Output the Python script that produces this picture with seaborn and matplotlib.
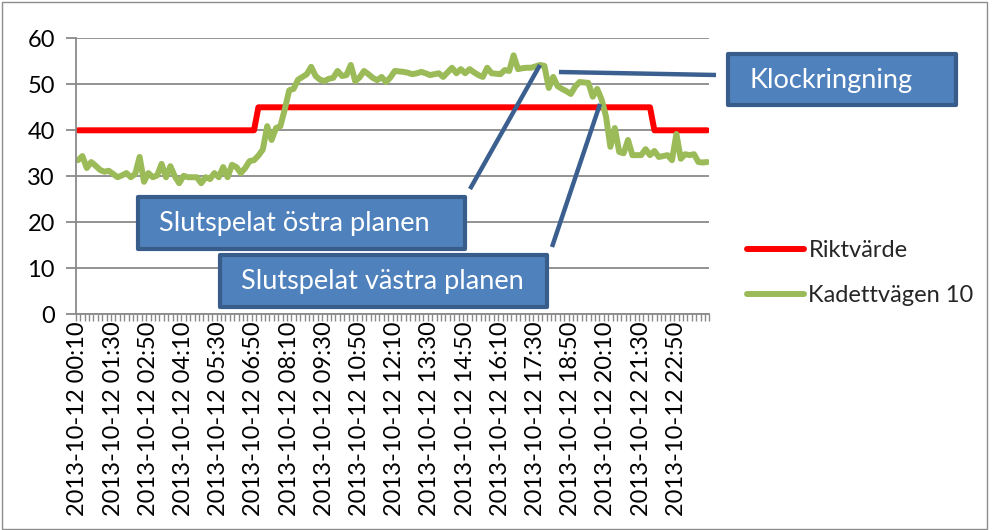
import numpy as np
import pandas as pd
import matplotlib
matplotlib.use("Agg")
import matplotlib.pyplot as plt
import seaborn as sns
from matplotlib.patches import Rectangle
from matplotlib.lines import Line2D

# ---------------- data ----------------
n_points = 144  # 10-minute readings, 2013-10-12 00:10 ... 24:00

tick_positions = [0, 8, 16, 24, 32, 40, 48, 56, 64, 72, 80, 88, 96, 104, 112, 120, 128, 136]
tick_labels = [
    "2013-10-12 00:10", "2013-10-12 01:30", "2013-10-12 02:50", "2013-10-12 04:10",
    "2013-10-12 05:30", "2013-10-12 06:50", "2013-10-12 08:10", "2013-10-12 09:30",
    "2013-10-12 10:50", "2013-10-12 12:10", "2013-10-12 13:30", "2013-10-12 14:50",
    "2013-10-12 16:10", "2013-10-12 17:30", "2013-10-12 18:50", "2013-10-12 20:10",
    "2013-10-12 21:30", "2013-10-12 22:50",
]

riktvarde = [40] * 41 + [45] * 90 + [40] * 13

kadettvagen = [
    33.5, 34.4, 31.8, 33.1, 32.3, 31.4, 31.0, 31.2, 30.5, 29.8,
    30.2, 30.7, 29.8, 30.5, 34.2, 28.8, 30.7, 29.8, 30.2, 32.7,
    29.8, 32.2, 30.0, 28.5, 30.1, 29.8, 29.8, 29.8, 28.5, 29.8,
    29.4, 30.7, 29.8, 32.0, 29.8, 32.5, 32.0, 30.7, 31.8, 33.3,
    33.5, 34.5, 35.8, 40.9, 37.9, 40.5, 40.9, 44.6, 48.7, 49.0,
    51.0, 51.6, 52.2, 53.8, 51.8, 51.0, 50.7, 51.2, 51.4, 52.9,
    51.8, 52.0, 54.2, 50.7, 51.5, 52.9, 52.2, 51.4, 50.9, 51.6,
    50.5, 51.5, 52.9, 52.8, 52.7, 52.5, 52.2, 52.4, 52.7, 52.4,
    52.0, 52.2, 52.4, 51.6, 52.6, 53.6, 52.4, 53.3, 52.4, 53.3,
    52.6, 52.0, 51.6, 53.6, 52.4, 52.3, 52.2, 53.1, 52.9, 56.3,
    53.3, 53.5, 53.6, 53.6, 53.9, 54.2, 54.0, 49.2, 51.6, 49.6,
    49.0, 48.5, 47.9, 49.5, 50.5, 50.4, 50.3, 47.3, 49.0, 46.7,
    43.0, 36.4, 40.5, 35.3, 35.0, 37.9, 34.6, 34.6, 34.6, 35.9,
    34.6, 35.5, 34.2, 34.4, 34.6, 33.5, 39.2, 33.8, 34.8, 34.6,
    34.8, 33.1, 33.0, 33.1,
]

series_names = ["Riktvärde", "Kadettvägen 10"]
series_colors = ["#FF0000", "#9BBB59"]

df = pd.DataFrame({
    "idx": list(range(n_points)),
    series_names[0]: riktvarde,
    series_names[1]: kadettvagen,
})

# ---------------- figure ----------------
sns.set_theme(style="white")
plt.rcParams["font.family"] = ["Lato", "DejaVu Sans"]

W, H = 992, 530
fig = plt.figure(figsize=(W / 100, H / 100), dpi=100)
fig.patch.set_facecolor("white")

def fx(x):
    return x / W

def fy(y):
    return 1 - y / H

left, right, top, bottom = 75.8, 709.4, 38.3, 314.3
ax = fig.add_axes([fx(left), fy(bottom), fx(right) - fx(left), fy(top) - fy(bottom)])

grid_col = "#8A8A8A"
ax.set_axisbelow(True)
ax.yaxis.grid(True, color=grid_col, lw=1.3)
ax.xaxis.grid(False)

for name, col in zip(series_names, series_colors):
    sns.lineplot(data=df, x="idx", y=name, ax=ax, color=col, lw=4.3,
                 solid_capstyle="round", solid_joinstyle="round", legend=False)

ax.set_xlim(-0.5, n_points - 0.5)
ax.set_ylim(0, 60)
ax.set_yticks(range(0, 61, 10))
ax.set_xlabel("")
ax.set_ylabel("")

ax.set_xticks(tick_positions)
ax.set_xticklabels(tick_labels, rotation=90, fontsize=17, color="black")
ax.set_xticks(np.arange(-0.5, n_points, 1.0), minor=True)
ax.tick_params(axis="x", which="major", length=0, pad=5)
ax.tick_params(axis="x", which="minor", length=5, width=1.0, color=grid_col,
               direction="out", bottom=True)
ax.tick_params(axis="y", which="major", length=7, width=1.3, color=grid_col,
               direction="out", left=True, labelsize=17, pad=8, labelcolor="black")

for s in ["top", "right"]:
    ax.spines[s].set_visible(False)
for s in ["left", "bottom"]:
    ax.spines[s].set_color(grid_col)
    ax.spines[s].set_linewidth(1.3)

# legend
handles = [Line2D([0], [0], color=c, lw=4.3, solid_capstyle="round") for c in series_colors]
fig.legend(handles, series_names, loc="center left",
           bbox_to_anchor=(fx(747), fy(273)), bbox_transform=fig.transFigure,
           frameon=False, fontsize=17, handlelength=2.4, handletextpad=0.2,
           labelspacing=1.0, borderpad=0, borderaxespad=0)

# ---------------- annotations ----------------
box_face = "#4F81BD"
box_edge = "#385D8A"
line_col = "#3B5F8E"

def callout_line(p0, p1):
    fig.add_artist(Line2D([fx(p0[0]), fx(p1[0])], [fy(p0[1]), fy(p1[1])],
                          transform=fig.transFigure, color=line_col, lw=3.2,
                          solid_capstyle="butt", zorder=5))

def box(x0, y0, x1, y1, text, tx):
    r = Rectangle((fx(x0), fy(y1)), fx(x1) - fx(x0), fy(y0) - fy(y1),
                  transform=fig.transFigure, facecolor=box_face, edgecolor=box_edge,
                  lw=3.0, joinstyle="round", zorder=6)
    fig.add_artist(r)
    fig.text(fx(tx), fy((y0 + y1) / 2 + 1), text, color="white", fontsize=19.5,
             ha="left", va="center", zorder=7)

callout_line((470, 189), (540, 65))
callout_line((552, 247), (600, 104))
callout_line((559, 72), (716, 75))

box(138, 197, 465, 249, "Slutspelat östra planen", 159)
box(220, 255, 547, 307, "Slutspelat västra planen", 241)
box(728, 54, 956, 105, "Klockringning", 749)

# chart-area border
fig.add_artist(Rectangle((fx(1.5), fy(528.5)), fx(987) - fx(1.5), fy(1.5) - fy(528.5),
                         transform=fig.transFigure, fill=False, edgecolor="#8C8C8C",
                         lw=1.0, zorder=10))

fig.savefig("out.png", dpi=100, facecolor="white")
